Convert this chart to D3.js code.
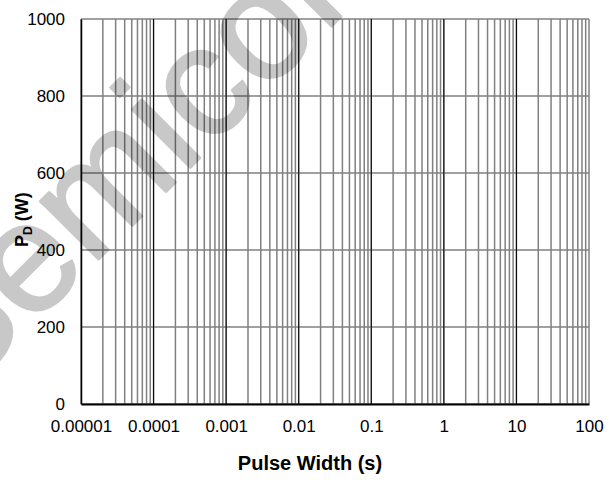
<!DOCTYPE html>
<html>
<head>
<meta charset="utf-8">
<script src="https://cdn.jsdelivr.net/npm/d3@7"></script>
<style>
  body { margin: 0; background: #fff; }
  text { font-family: Arial, "Liberation Sans", sans-serif; }
</style>
</head>
<body>
<div id="vis"></div>
<script>
// axis ranges and labels
var xDomain = [0.00001, 100];
var yDomain = [0, 1000];
var xTickValues = [0.00001, 0.0001, 0.001, 0.01, 0.1, 1, 10, 100];
var xTickLabels = ["0.00001", "0.0001", "0.001", "0.01", "0.1", "1", "10", "100"];
var yTickValues = [0, 200, 400, 600, 800, 1000];
var xTitle = "Pulse Width (s)";
var watermark = "ON Semiconductor";

var width = 613,
    height = 480;
var margin = {top: 19, right: 24, bottom: 76, left: 81};

var svg = d3.select("#vis").append("svg")
    .attr("width", width)
    .attr("height", height);

var x = d3.scaleLog()
    .domain(xDomain)
    .range([margin.left, width - margin.right]);

var y = d3.scaleLinear()
    .domain(yDomain)
    .range([height - margin.bottom, margin.top]);

var grid = svg.append("g");

// minor log gridlines (1..9 each decade)
grid.selectAll("line.minor")
    .data(x.ticks())
    .enter().append("line")
      .attr("class", "minor")
      .attr("x1", function(d) { return x(d); })
      .attr("x2", function(d) { return x(d); })
      .attr("y1", y(yDomain[0]))
      .attr("y2", y(yDomain[1]))
      .attr("stroke", "#808080")
      .attr("stroke-width", 1.5);

// horizontal gridlines
grid.selectAll("line.hgrid")
    .data(yTickValues)
    .enter().append("line")
      .attr("class", "hgrid")
      .attr("x1", x(xDomain[0]))
      .attr("x2", x(xDomain[1]))
      .attr("y1", function(d) { return y(d); })
      .attr("y2", function(d) { return y(d); })
      .attr("stroke", "#808080")
      .attr("stroke-width", 1.5);

// decade lines, black and thin
grid.selectAll("line.major")
    .data(xTickValues.slice(1, -1))
    .enter().append("line")
      .attr("class", "major")
      .attr("x1", function(d) { return x(d); })
      .attr("x2", function(d) { return x(d); })
      .attr("y1", y(yDomain[0]))
      .attr("y2", y(yDomain[1]))
      .attr("stroke", "#000")
      .attr("stroke-width", 1);

// axes: left and bottom black
var xAxis = d3.axisBottom(x)
    .tickValues(xTickValues)
    .tickSize(0)
    .tickPadding(16)
    .tickFormat(function(d, i) { return xTickLabels[i]; });

var yAxis = d3.axisLeft(y)
    .tickValues(yTickValues)
    .tickSize(0)
    .tickPadding(16)
    .tickFormat(d3.format("d"));

var gx = svg.append("g")
    .attr("transform", "translate(0," + y(0) + ")")
    .call(xAxis);
gx.select(".domain").attr("stroke", "#000").attr("stroke-width", 2);
gx.selectAll("text").attr("font-size", 17).attr("fill", "#000")
    .attr("font-family", "Arial, 'Liberation Sans', sans-serif");

var gy = svg.append("g")
    .attr("transform", "translate(" + x(xDomain[0]) + ",0)")
    .call(yAxis);
gy.select(".domain").attr("stroke", "#000").attr("stroke-width", 1.5);
gy.selectAll("text").attr("font-size", 17).attr("fill", "#000")
    .attr("font-family", "Arial, 'Liberation Sans', sans-serif");

// titles
svg.append("text")
    .attr("x", 310)
    .attr("y", 470)
    .attr("text-anchor", "middle")
    .attr("font-size", 20)
    .attr("font-weight", "bold")
    .text(xTitle);

var ylab = svg.append("text")
    .attr("transform", "translate(28,247) rotate(-90)")
    .attr("font-size", 18)
    .attr("font-weight", "bold");
ylab.append("tspan").text("P");
ylab.append("tspan").attr("font-size", 12).attr("dy", 4).text("D");
ylab.append("tspan").attr("dy", -4).text(" (W)");

// watermark on top, runs off the page like the original
svg.append("g")
    .attr("opacity", 0.21)
  .append("text")
    .attr("transform", "translate(-240,598) rotate(-45)")
    .attr("font-size", 156)
    .attr("fill", "#000")
    .attr("stroke", "#000")
    .attr("stroke-width", 2.5)
    .attr("stroke-linejoin", "round")
    .text(watermark);
</script>
</body>
</html>
